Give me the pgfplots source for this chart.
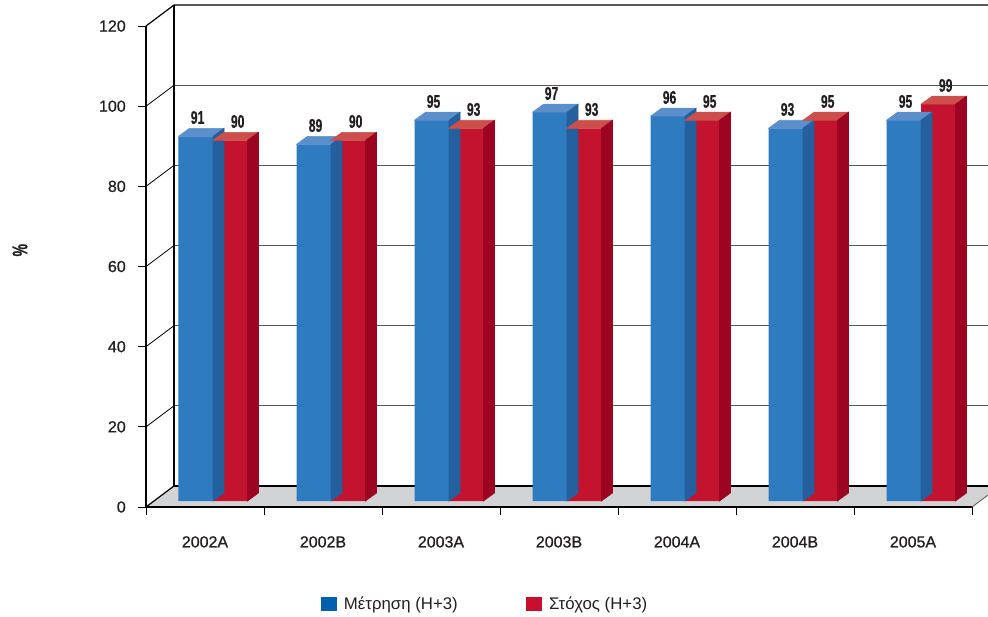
\documentclass[border=0pt]{standalone}
\usepackage{pgfplots}
\pgfplotsset{compat=1.18}
\usepackage{pgfplotstable}
\usepackage{fontspec}
\setmainfont{Liberation Sans}
\newfontfamily\condbold{Liberation Sans}[FakeStretch=0.66, FakeBold=0.6]
\newfontfamily\medfont{Liberation Sans}[FakeBold=0.8]

\definecolor{bluefront}{HTML}{2E7BC0}
\definecolor{bluetop}{HTML}{5B8FCB}
\definecolor{blueside}{HTML}{23609D}
\definecolor{redfront}{HTML}{C3132F}
\definecolor{redtop}{HTML}{CC4F4C}
\definecolor{redside}{HTML}{9C0522}
\definecolor{legblue}{HTML}{0060AF}
\definecolor{legred}{HTML}{C8102E}
\definecolor{floorgray}{HTML}{D2D3D5}
\definecolor{gridgray}{HTML}{555555}
\definecolor{textgray}{HTML}{231F20}

% 1 px of the reference = 0.75pt
\pgfplotstableread{
cat meas target
0 91 90
1 89 90
2 95 93
3 97 93
4 96 95
5 93 95
6 95 99
}\datatable

\pgfplotsset{/pgf/number format/assume math mode=true}
\tikzset{back/.style={shift={(21pt,15.75pt)}}}
\newcommand{\tickfont}{\medfont\fontsize{12}{14}\selectfont}
\newcommand{\legfont}{\fontsize{12.6}{14}\selectfont}
\newcommand{\valfont}{\condbold\bfseries\fontsize{13.8}{15}\selectfont}

\begin{document}
\begin{tikzpicture}
% front plane: frame, floor, ticks
\begin{axis}[
  at={(-6pt,-4.5pt)}, anchor=origin,
  x=88.5pt, y=3.006pt,
  xmin=-0.5, xmax=6.5, ymin=0, ymax=120,
  enlargelimits=false, clip=false, axis on top,
  axis x line*=bottom, axis y line*=left,
  axis line style={black, line width=0.9pt},
  xtick={0,...,6},
  xticklabels={2002A,2002B,2003A,2003B,2004A,2004B,2005A},
  major x tick style={draw=none},
  minor xtick={-0.5,0.5,...,6.5},
  ytick={0,20,...,120},
  tick align=outside, major tick length=6pt, minor tick length=6pt,
  tick style={black, line width=0.6pt},
  yticklabel style={anchor=east, inner sep=0pt, xshift=-9pt, font=\tickfont, text=textgray},
  xticklabel style={anchor=north, inner sep=0pt, yshift=-15.75pt, font=\tickfont, text=textgray},
  ylabel={\%},
  ylabel style={at={(axis description cs:-0.1525,0.534)}, anchor=center,
    font=\condbold\bfseries\fontsize{16}{18}\selectfont, text=textgray},
]
\fill[floorgray] (axis cs:-0.5,0) -- (axis cs:6.5,0) -- ([back]axis cs:6.5,0) -- ([back]axis cs:-0.5,0) -- cycle;
\draw[gridgray, line width=0.6pt] (axis cs:6.5,0) -- ([back]axis cs:6.5,0);
\draw[black, line width=0.9pt] ([back]axis cs:-0.5,0) -- ([back]axis cs:6.8,0);
\draw[black, line width=0.9pt] (axis cs:-0.5,0) -- ([back]axis cs:-0.5,0);
\pgfplotsinvokeforeach{20,40,60,80,100}{
  \draw[gridgray, line width=0.6pt] ([back]axis cs:-0.5,#1) -- ([back]axis cs:6.8,#1);
  \draw[black, line width=0.6pt] (axis cs:-0.5,#1) -- ([back]axis cs:-0.5,#1);
}
\draw[black, line width=0.9pt] (axis cs:-0.5,120) -- ([back]axis cs:-0.5,120) -- ([back]axis cs:6.8,120);
\draw[black, line width=0.9pt] ([back]axis cs:-0.5,0) -- ([back]axis cs:-0.5,120);
\end{axis}

% bar plane
\begin{axis}[
  at={(0pt,0pt)}, anchor=origin,
  x=88.5pt, y=3.006pt,
  xmin=-0.5, xmax=6.5, ymin=0, ymax=120,
  enlargelimits=false, clip=false, axis lines=none,
  xtick=\empty, ytick=\empty,
  legend columns=2,
  legend style={at={(axis description cs:0.2022,-0.2141)}, anchor=west,
    draw=none, fill=none, inner sep=0pt, font=\legfont, text=textgray,
    /tikz/every odd column/.append style={column sep=3pt},
    /tikz/every even column/.append style={column sep=49.5pt}},
  legend cell align=left,
]
\addplot[ybar, bar width=25.875pt, bar shift=-12.9375pt, fill=bluefront, draw=none,
  nodes near coords,
  every node near coord/.append style={anchor=south, inner sep=0pt, yshift=9pt, xshift=-11.6pt, font=\valfont, text=textgray},
  legend image code/.code={\fill[legblue] (0pt,-5.6pt) rectangle (12pt,5.6pt);}]
  table[x=cat, y=meas]{\datatable};
\addlegendentry{Μέτρηση (Η+3)}
\addplot[forget plot, scatter, only marks, mark=*, mark size=0pt, mark options={draw=none, fill=none},
  visualization depends on={rawy \as \barh},
  scatter/@pre marker code/.code={
    \fill[bluetop] (-25.875pt,0pt) -- (0pt,0pt) -- (8.25pt,6pt) -- (-17.625pt,6pt) -- cycle;
    \fill[blueside] (0pt,0pt) -- (8.25pt,6pt) -- (8.25pt,{6pt-\barh*3.006pt}) -- (0pt,{-\barh*3.006pt}) -- cycle;
  },
  scatter/@post marker code/.code={}]
  table[x=cat, y=meas]{\datatable};
\addplot[ybar, bar width=25.875pt, bar shift=12.9375pt, fill=redfront, draw=none,
  nodes near coords,
  every node near coord/.append style={anchor=south, inner sep=0pt, yshift=9pt, xshift=18.5pt, font=\valfont, text=textgray},
  legend image code/.code={\fill[legred] (0pt,-5.6pt) rectangle (12pt,5.6pt);}]
  table[x=cat, y=target]{\datatable};
\addlegendentry{Στόχος (Η+3)}
\addplot[forget plot, scatter, only marks, mark=*, mark size=0pt, mark options={draw=none, fill=none},
  visualization depends on={rawy \as \barh},
  scatter/@pre marker code/.code={
    \fill[redtop] (0pt,0pt) -- (25.875pt,0pt) -- (34.125pt,6pt) -- (8.25pt,6pt) -- cycle;
    \fill[redside] (25.875pt,0pt) -- (34.125pt,6pt) -- (34.125pt,{6pt-\barh*3.006pt}) -- (25.875pt,{-\barh*3.006pt}) -- cycle;
  },
  scatter/@post marker code/.code={}]
  table[x=cat, y=target]{\datatable};
\end{axis}
\pgfresetboundingbox
\path[use as bounding box] (-159.75pt,-87pt) rectangle (581.25pt,375.75pt);
\end{tikzpicture}
\end{document}
